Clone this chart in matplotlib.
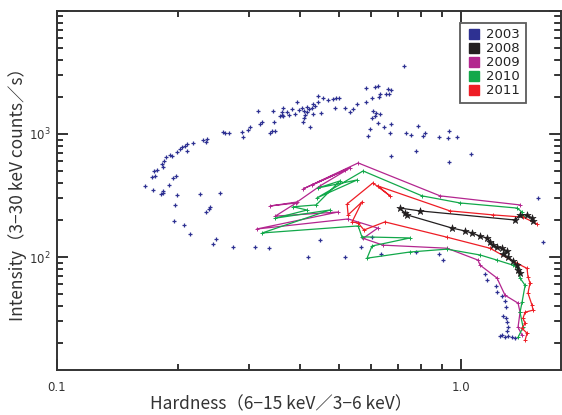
import matplotlib
matplotlib.use("Agg")
import matplotlib.pyplot as plt
from matplotlib.lines import Line2D
from matplotlib.ticker import FixedLocator, NullFormatter, FixedFormatter

# ---------------- data (hardness, intensity) ----------------
h2003 = [0.315, 0.344, 0.362, 0.373, 0.358, 0.364, 0.323, 0.319, 0.346, 0.301, 0.297, 0.288,
         0.290, 0.258, 0.261, 0.267, 0.342, 0.348, 0.338, 0.236, 0.230, 0.234, 0.218, 0.210,
         0.208, 0.204, 0.202, 0.199, 0.210, 0.191, 0.193, 0.187, 0.185, 0.182, 0.183, 0.177,
         0.174, 0.175, 0.172, 0.198, 0.194, 0.166, 0.190, 0.173, 0.183, 0.184, 0.181, 0.199,
         0.227, 0.254, 0.240, 0.238, 0.235, 0.197, 0.195, 0.207, 0.214, 0.248, 0.244, 0.274,
         0.310, 0.336,
         0.724, 0.584, 0.614, 0.625, 0.662, 0.673, 0.604, 0.632, 0.629, 0.654, 0.665, 0.555,
         0.584, 0.518, 0.542, 0.489, 0.533, 0.500, 0.483, 0.492, 0.469, 0.457, 0.444, 0.444,
         0.436, 0.431, 0.429, 0.422, 0.417, 0.417, 0.410, 0.431, 0.452, 0.406, 0.398, 0.393,
         0.382, 0.389, 0.413, 0.410, 0.408, 0.424, 0.377, 0.364, 0.362, 0.607, 0.618, 0.604,
         0.614, 0.632, 0.625, 0.647, 0.673, 0.597, 0.590, 0.669, 0.733, 0.754, 0.785, 0.808,
         0.817, 0.884, 0.932, 0.937, 0.673, 0.776, 0.937, 0.980, 1.062,
         1.554, 1.600, 0.449, 0.420, 0.518, 0.567, 0.604, 0.636, 0.776, 0.884, 0.905,
         1.150, 1.164, 1.224, 1.231, 1.267, 1.289, 1.296, 1.275, 1.296, 1.304, 1.311, 1.304,
         1.267, 1.311, 1.341, 1.253, 1.289, 1.364]
i2003 = [1538, 1538, 1509, 1509, 1400, 1400, 1252, 1206, 1252, 1141, 1078, 1038,
         946, 1038, 1019, 1019, 1058, 1058, 1019, 910, 893, 860, 844, 828,
         799, 784, 755, 714, 727, 675, 663, 651, 604, 571, 539, 510,
         501, 456, 447, 456, 439, 378, 385, 351, 345, 332, 326, 320,
         326, 332, 255, 246, 232, 265, 196, 182, 154, 140, 127, 120,
         120, 118,
         3572, 2365, 2409, 2455, 2321, 2278, 1960, 2114, 1997, 2114, 2114, 1752,
         1819, 1627, 1597, 1627, 1509, 1960, 1924, 1960, 1888, 1960, 2036, 1819,
         1688, 1752, 1627, 1597, 1657, 1509, 1538, 1454, 1481, 1627, 1567, 1819,
         1597, 1454, 1427, 1350, 1252, 1141, 1427, 1627, 1427, 1538, 1481, 1350,
         1400, 1454, 1229, 1141, 1206, 1098, 964, 1019, 1019, 982, 1162, 964,
         1019, 946, 927, 1058, 663, 727, 593, 946, 688,
         302, 132, 137, 100, 100, 120, 146, 106, 110, 106, 94.5,
         72.7, 65.0, 58.1, 51.9, 48.2, 43.9, 39.2, 33.1, 31.9, 29.6, 27.0, 25.0,
         23.2, 22.8, 22.3, 22.8, 22.3, 21.9]

h2008 = [1.511, 1.503, 1.461, 1.404, 1.364, 0.794, 0.708, 0.728, 0.737, 0.953, 1.026, 1.068,
         1.118, 1.163, 1.183, 1.203, 1.231, 1.267, 1.304, 1.275, 1.311, 1.349, 1.380, 1.388, 1.404]
i2008 = [196, 208, 220, 220, 200, 237, 250, 228, 220, 172, 163, 157,
         148, 143, 132, 125, 120, 118, 112, 106, 100, 93, 86, 78, 74]

h2009 = [1.404, 0.890, 0.558, 0.408, 0.518, 0.429, 0.533, 0.449, 0.394, 0.338, 0.392, 0.348,
         0.497, 0.313, 0.527, 0.624, 0.574, 0.643, 0.926, 1.105, 1.118, 1.231, 1.289, 1.388,
         1.404, 1.388, 1.420]
i2009 = [265, 314, 581, 358, 510, 385, 529, 378, 280, 260, 275, 215,
         232, 169, 204, 172, 142, 125, 118, 94.5, 86, 67.6, 49, 42.3,
         35.7, 27.0, 23.2]

h2010 = [1.428, 1.420, 1.380, 0.997, 0.803, 0.574, 0.441, 0.555, 0.444, 0.503, 0.439, 0.385,
         0.417, 0.348, 0.475, 0.323, 0.558, 0.570, 0.750, 0.604, 0.587, 0.750, 0.926, 1.118,
         1.231, 1.349, 1.388, 1.404, 1.445, 1.420, 1.404, 1.428, 1.388]
i2010 = [216, 232, 250, 275, 314, 500, 302, 423, 364, 415, 265, 256,
         241, 207, 241, 157, 179, 146, 143, 123, 98, 110, 116, 104,
         94.5, 86, 81, 67.5, 59, 43, 35.7, 27, 22.3]

h2011 = [1.547, 1.428, 1.203, 0.942, 0.624, 0.669, 0.607, 0.524, 0.527, 0.570, 0.539, 0.558,
         0.577, 0.650, 0.926, 1.183, 1.380, 1.461, 1.469, 1.486, 1.469, 1.503, 1.512, 1.445,
         1.428, 1.445, 1.420, 1.461, 1.445]
i2011 = [186, 211, 220, 237, 378, 314, 400, 270, 220, 280, 193, 189,
         166, 193, 145, 118, 89, 81, 69, 61.5, 51, 40.7, 37.1, 35.7,
         31.9, 29, 26.4, 24.1, 21.1]

years = ["2003", "2008", "2009", "2010", "2011"]
colors = ["#2E3192", "#231F20", "#B3268F", "#12A84A", "#EE1D25"]

x_ticks_major = [0.1, 1.0]
x_tick_labels = ["0.1", "1.0"]
x_ticks_minor = [0.2, 0.3, 0.4, 0.5, 0.6, 0.7, 0.8, 0.9]
y_ticks_major = [1e2, 1e3, 1e4]
y_tick_labels = ["$10^2$", "$10^3$", ""]
y_ticks_minor = [20, 30, 40, 50, 60, 70, 80, 90, 200, 300, 400, 500, 600, 700, 800, 900,
                 2000, 3000, 4000, 5000, 6000, 7000, 8000, 9000]

# ---------------- figure ----------------
plt.rcParams['font.family'] = ['DejaVu Sans']
fig = plt.figure(figsize=(5.62, 4.15), dpi=100)
L, R, T, B = 56.5, 560.5, 10.7, 370.3
ax = fig.add_axes([L / 562, 1 - B / 415, (R - L) / 562, (B - T) / 415])
ax.set_xscale("log")
ax.set_yscale("log")
ax.set_xlim(0.1, 1.768)
ax.set_ylim(12.05, 1e4)

spine_c = "#333333"
for s in ax.spines.values():
    s.set_color(spine_c)
    s.set_linewidth(1.4)

ax.xaxis.set_major_locator(FixedLocator(x_ticks_major))
ax.xaxis.set_major_formatter(FixedFormatter(x_tick_labels))
ax.xaxis.set_minor_locator(FixedLocator(x_ticks_minor))
ax.xaxis.set_minor_formatter(NullFormatter())
ax.yaxis.set_major_locator(FixedLocator(y_ticks_major))
ax.yaxis.set_major_formatter(FixedFormatter(y_tick_labels))
ax.yaxis.set_minor_locator(FixedLocator(y_ticks_minor))
ax.yaxis.set_minor_formatter(NullFormatter())
ax.tick_params(which="both", direction="in", top=True, right=True, color=spine_c, width=1.2)
ax.tick_params(which="major", length=8, labelsize=8.5, labelcolor="#333333", pad=4)
ax.tick_params(which="minor", length=4.5)
ax.tick_params(axis="x", which="major", pad=8)

# inward tick strokes drawn as plain line collections at the tick positions
# (lengths expressed as fractions of the axes box: 8 pt major, 4.5 pt minor)
ax_w_px = (R - L)
ax_h_px = (B - T)
maj_px, min_px = 8 * 100 / 72, 4.5 * 100 / 72
xt = ax.get_xaxis_transform()
yt = ax.get_yaxis_transform()
for ticks, lpx in [(x_ticks_major, maj_px), (x_ticks_minor, min_px)]:
    f = lpx / ax_h_px
    ax.vlines(ticks, 0, f, transform=xt, colors=spine_c, linewidths=1.2, clip_on=False, zorder=6)
    ax.vlines(ticks, 1 - f, 1, transform=xt, colors=spine_c, linewidths=1.2, clip_on=False, zorder=6)
for ticks, lpx in [(y_ticks_major, maj_px), (y_ticks_minor, min_px)]:
    f = lpx / ax_w_px
    ax.hlines(ticks, 0, f, transform=yt, colors=spine_c, linewidths=1.2, clip_on=False, zorder=6)
    ax.hlines(ticks, 1 - f, 1, transform=yt, colors=spine_c, linewidths=1.2, clip_on=False, zorder=6)

# 2003 scatter
ax.scatter(h2003, i2003, marker="+", s=7, linewidths=0.9, c=colors[0], zorder=2)
# 2008 line with markers
ax.plot(h2008, i2008, '-', color=colors[1], lw=0.9, zorder=4)
ax.scatter(h2008, i2008, marker="*", s=30, linewidths=0.4, c=colors[1], edgecolors=colors[1], zorder=4)
# 2009-2011 lines
for hh, ii, c in [(h2009, i2009, colors[2]), (h2010, i2010, colors[3]), (h2011, i2011, colors[4])]:
    ax.plot(hh, ii, '-', color=c, lw=0.9, zorder=3)
    ax.scatter(hh, ii, marker="+", s=9, linewidths=0.7, c=c, zorder=3)

ax.set_xlim(0.1, 1.768)
ax.set_ylim(12.05, 1e4)

lab_font = ['Noto Sans CJK JP', 'DejaVu Sans']
fig.text(281 / 562, 1 - 404 / 415, "Hardness（6−15 keV／3−6 keV）", ha="center", va="center",
         fontsize=12.5, color="#333333", family=lab_font)
fig.text(18 / 562, 1 - 190 / 415, "Intensity（3−30 keV counts／s）", ha="center", va="center",
         rotation=90, fontsize=12.5, color="#333333", family=lab_font)

handles = [Line2D([], [], linestyle="none", marker="s", ms=6.5, color=c, mec=c) for c in colors]
leg = ax.legend(handles, years, loc="upper left", bbox_to_anchor=(0.8006, 0.966),
                borderaxespad=0, frameon=True, fancybox=False, fontsize=9.5,
                handletextpad=0.3, handlelength=1.3, labelspacing=0.08, borderpad=0.4)
leg.get_frame().set_edgecolor("#333333")
leg.get_frame().set_linewidth(1.3)
leg.set_zorder(7)
for t in leg.get_texts():
    t.set_color("#222222")

fig.savefig("out.png", dpi=100)
